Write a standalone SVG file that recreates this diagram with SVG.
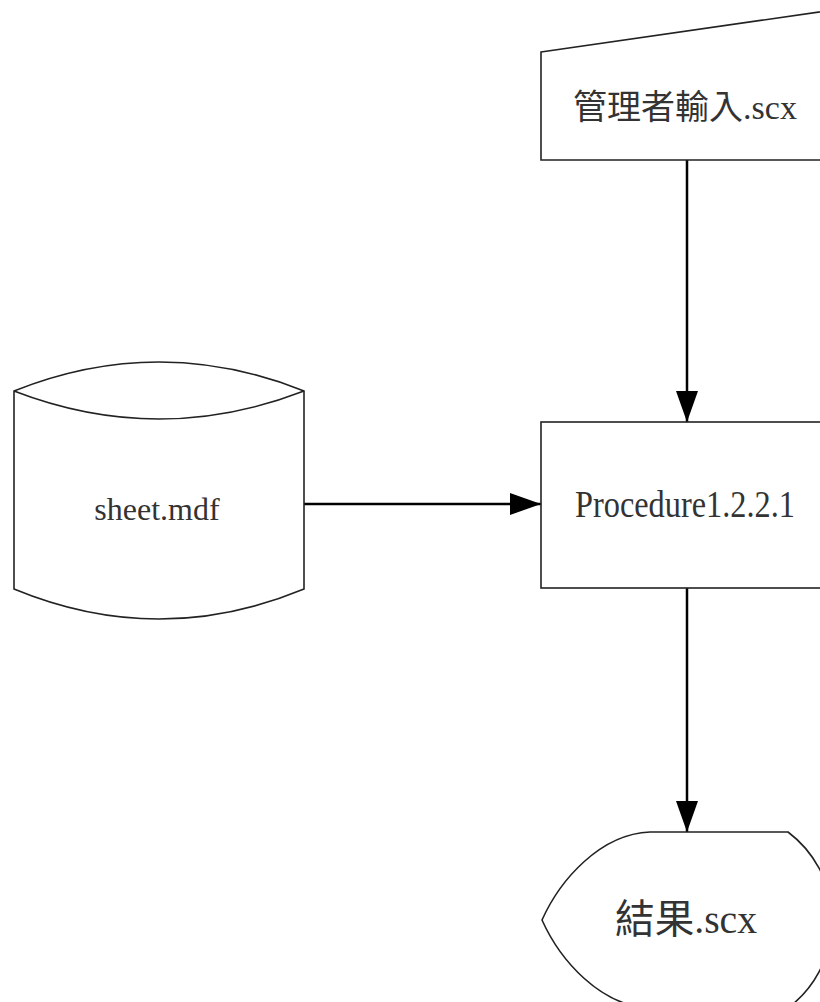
<svg xmlns="http://www.w3.org/2000/svg" width="820" height="1002" viewBox="0 0 820 1002">
<defs>
<style>
.node{fill:#ffffff;stroke:#222222;stroke-width:1.6;}
.conn{fill:none;stroke:#000000;stroke-width:2.5;}
.lat{font-family:"Liberation Serif","Times New Roman",serif;fill:#333333;}
.cjk{font-family:"Liberation Serif","Noto Sans CJK TC",serif;fill:#333333;}
</style>
<marker id="arr" markerUnits="userSpaceOnUse" markerWidth="32" markerHeight="22" refX="31" refY="11" orient="auto">
<path d="M0,0 L31,11 L0,22 Z" fill="#000000"/>
</marker>
</defs>
<rect width="820" height="1002" fill="#ffffff"/>
<g id="connectors">
<line class="conn" x1="687" y1="160" x2="687" y2="422" marker-end="url(#arr)"/>
<line class="conn" x1="304" y1="504" x2="541" y2="504" marker-end="url(#arr)"/>
<line class="conn" x1="687" y1="588" x2="687" y2="832" marker-end="url(#arr)"/>
</g>
<g id="manual-input">
<polygon class="node" points="541,52 840,9 840,160 541,160"/>
<text class="cjk" x="685" y="119" font-size="34" text-anchor="middle">管理者輸入.scx</text>
</g>
<g id="sheet-mdf">
<path class="node" d="M14,391 Q159,333 304,391 L304,589 Q159,649 14,589 Z"/>
<path class="node" fill="none" d="M14,391 Q159,447 304,391"/>
<text class="lat" x="157" y="520" font-size="32" text-anchor="middle">sheet.mdf</text>
</g>
<g id="procedure">
<rect class="node" x="541" y="422" width="300" height="166"/>
<text class="lat" x="575" y="517" font-size="38" textLength="220" lengthAdjust="spacingAndGlyphs">Procedure1.2.2.1</text>
</g>
<g id="result">
<path class="node" d="M650,832 L788,832 A110,110 0 0 1 788,1008 L650,1008 C600,1006 560,960 542,920 C560,880 600,834 650,832 Z"/>
<text class="cjk" x="615" y="933" font-size="40" textLength="142" lengthAdjust="spacingAndGlyphs">結果.scx</text>
</g>
</svg>
